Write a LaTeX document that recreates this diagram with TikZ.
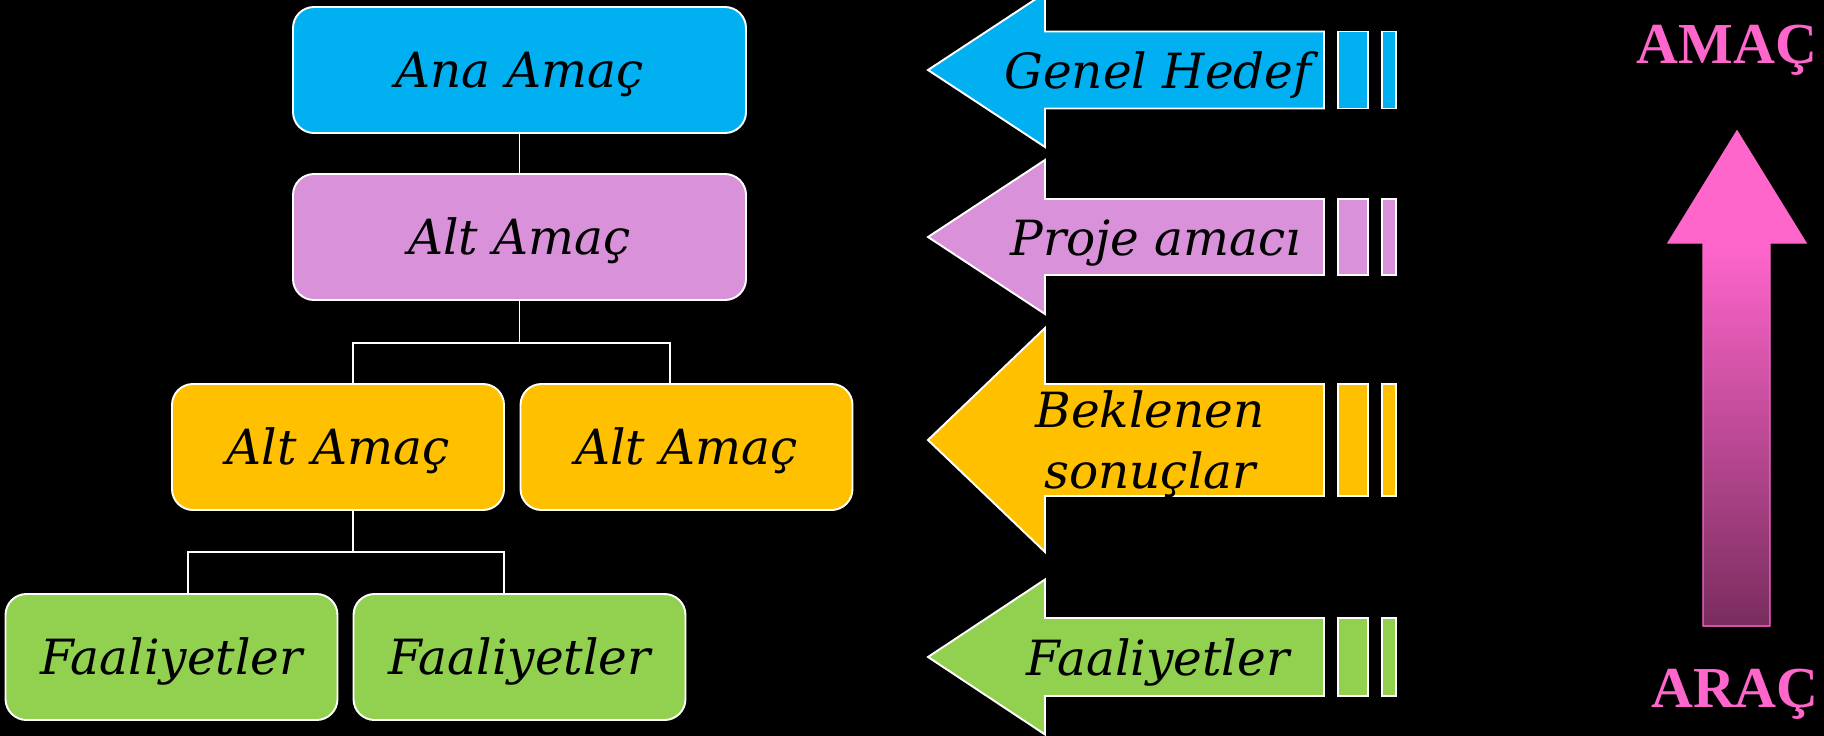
\documentclass[tikz,border=0pt]{standalone}
\usepackage{fontspec}
\setmainfont{DejaVu Serif}
\newfontfamily\capsfont{Liberation Serif}
\usetikzlibrary{positioning}
\definecolor{goalblue}{HTML}{00B0F0}
\definecolor{subpink}{HTML}{D991DA}
\definecolor{resultgold}{HTML}{FFC000}
\definecolor{taskgreen}{HTML}{92D050}
\definecolor{amacpink}{HTML}{FF66CC}
\definecolor{aracplum}{HTML}{7A2D5E}

\begin{document}
\begin{tikzpicture}[
    font=\fontsize{27.6}{34.6}\selectfont\itshape,
    goalbox/.style={draw=white, line width=1.1pt, rounded corners=0.42cm,
        minimum height=2.52cm, text height=20.1pt, text depth=0pt, inner sep=0pt},
    wide/.style={goalbox, minimum width=9.06cm},
    narrow/.style={goalbox, minimum width=6.64cm},
    link/.style={draw=white, line width=1.1pt},
    band/.style={draw=white, line width=1.1pt},
    tag/.style={anchor=base, inner sep=0pt},
    bigword/.style={font=\fontsize{33}{38}\selectfont\capsfont\bfseries,
        text=amacpink, anchor=base, inner sep=0pt}
]
\useasboundingbox (0,0) rectangle (36.48,-14.72);
\fill[black] (0,0) rectangle (36.48,-14.72);

% Goal tree (left)
\node[wide, fill=goalblue] (ana) at (10.39,-1.40) {Ana Amaç};
\node[wide, fill=subpink] (alt) at (10.39,-4.74) {Alt Amaç};
\node[narrow, fill=resultgold] (alta) at (6.76,-8.94) {Alt Amaç};
\node[narrow, fill=resultgold] (altb) at (13.73,-8.94) {Alt Amaç};
\node[narrow, fill=taskgreen] (faa) at (3.43,-13.14) {Faaliyetler};
\node[narrow, fill=taskgreen] (fab) at (10.39,-13.14) {Faaliyetler};

% Tree links
\draw[link] (ana) -- (alt);
\draw[link] (alt.south) -- ++(0,-0.84) -| ([xshift=0.30cm]alta.north);
\draw[link] (alt.south) -- ++(0,-0.84) -| ([xshift=-0.33cm]altb.north);
\draw[link] ([xshift=0.30cm]alta.south) -- ++(0,-0.82) -| ([xshift=0.33cm]faa.north);
\draw[link] ([xshift=0.30cm]alta.south) -- ++(0,-0.82) -| ([xshift=-0.31cm]fab.north);

% Level arrows (centre)
\draw[band, fill=goalblue] (18.56,-1.40) -- (20.90,0.14) -- (20.90,-0.63) -- (26.48,-0.63)
    -- (26.48,-2.17) -- (20.90,-2.17) -- (20.90,-2.94) -- cycle;
\draw[band, fill=goalblue] (26.76,-0.63) rectangle (27.36,-2.17);
\draw[band, fill=goalblue] (27.64,-0.63) rectangle (27.92,-2.17);

\draw[band, fill=subpink] (18.56,-4.74) -- (20.90,-3.20) -- (20.90,-3.98) -- (26.48,-3.98)
    -- (26.48,-5.50) -- (20.90,-5.50) -- (20.90,-6.28) -- cycle;
\draw[band, fill=subpink] (26.76,-3.98) rectangle (27.36,-5.50);
\draw[band, fill=subpink] (27.64,-3.98) rectangle (27.92,-5.50);

\draw[band, fill=resultgold] (18.56,-8.80) -- (20.90,-6.56) -- (20.90,-7.68) -- (26.48,-7.68)
    -- (26.48,-9.92) -- (20.90,-9.92) -- (20.90,-11.04) -- cycle;
\draw[band, fill=resultgold] (26.76,-7.68) rectangle (27.36,-9.92);
\draw[band, fill=resultgold] (27.64,-7.68) rectangle (27.92,-9.92);

\draw[band, fill=taskgreen] (18.56,-13.14) -- (20.90,-11.59) -- (20.90,-12.36) -- (26.48,-12.36)
    -- (26.48,-13.92) -- (20.90,-13.92) -- (20.90,-14.69) -- cycle;
\draw[band, fill=taskgreen] (26.76,-12.36) rectangle (27.36,-13.92);
\draw[band, fill=taskgreen] (27.64,-12.36) rectangle (27.92,-13.92);

% Arrow labels
\node[tag] (genel) at (23.16,-1.76) {Genel Hedef};
\node[tag] (proje) at (23.12,-5.10) {Proje amacı};
\node[inner sep=0pt, align=center] (bekl) at (23.00,-8.89) {Beklenen\\sonuçlar};
\node[tag] (faal) at (23.16,-13.50) {Faaliyetler};

% Means-end arrow (right)
\shade[top color=amacpink, bottom color=aracplum] (34.06,-4.86) rectangle (35.40,-12.52);
\fill[amacpink] (33.36,-4.86) -- (34.74,-2.62) -- (36.12,-4.86) -- cycle;
\draw[draw=amacpink, line width=0.8pt] (34.06,-12.52) -- (34.06,-4.86) -- (33.36,-4.86)
    -- (34.74,-2.62) -- (36.12,-4.86) -- (35.40,-4.86) -- (35.40,-12.52) -- cycle;
\node[bigword] (amac) at (34.54,-1.26) {AMAÇ};
\node[bigword] (arac) at (34.70,-14.14) {ARAÇ};

\end{tikzpicture}
\end{document}
